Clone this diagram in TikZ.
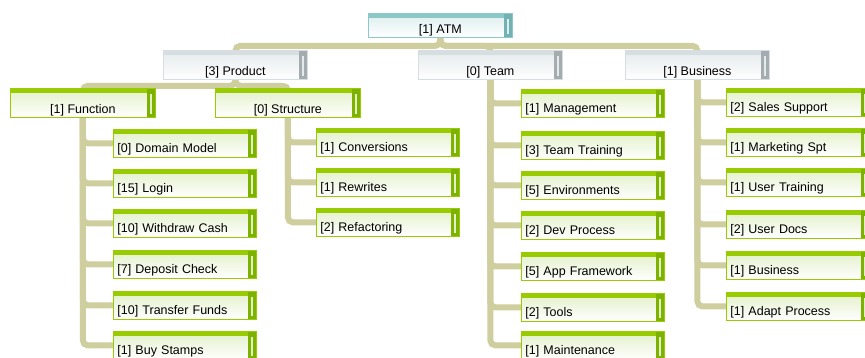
\documentclass[tikz,border=0pt]{standalone}
\usepackage{fontspec}
\setmainfont{Liberation Sans}
\usepackage{xcolor}
\usepackage{tikz}
\usetikzlibrary{backgrounds,calc}

\definecolor{tealbar}{RGB}{140,200,200}
\definecolor{tealside}{RGB}{115,178,178}
\definecolor{tealpale}{RGB}{220,238,238}
\definecolor{greybar}{RGB}{214,222,226}
\definecolor{greyside}{RGB}{165,172,176}
\definecolor{greypale}{RGB}{228,234,236}
\definecolor{limebar}{RGB}{153,204,0}
\definecolor{limeside}{RGB}{125,178,0}
\definecolor{limepale}{RGB}{226,240,200}
\definecolor{linkc}{RGB}{206,206,158}

\tikzset{
  box/.style={rectangle, anchor=north west, inner sep=0pt, text depth=3pt,
    font=\fontsize{12.5}{14}\selectfont, line width=0.8pt,
    draw=#1bar, top color=#1pale, bottom color=white,
    path picture={
      \fill[#1bar] (path picture bounding box.north west)
        rectangle ([yshift=-5pt]path picture bounding box.north east);
      \fill[#1side] ([xshift=-8pt]path picture bounding box.north east)
        rectangle (path picture bounding box.south east);
      \fill[#1pale] ([xshift=-5pt,yshift=-6pt]path picture bounding box.north east)
        rectangle ([xshift=-3pt,yshift=3pt]path picture bounding box.south east);
    }},
  root/.style={box=teal, minimum width=144pt, minimum height=24pt, text height=19pt},
  area/.style={box=grey, minimum width=144pt, minimum height=29pt, text height=24pt},
  group/.style={box=lime, minimum width=145pt, minimum height=29pt, text height=24pt},
  leaf/.style={box=lime, minimum height=28pt, text height=21pt,
    text width=135pt, align=left, inner xsep=4pt},
  link/.style={draw=linkc, line width=6pt, rounded corners=5pt}
}

\begin{document}
\begin{tikzpicture}[x=1pt, y=-1pt]
  \useasboundingbox (0,0) rectangle (865,358);
  % top of the tree
  \node[root] (atm) at (368,13) {[1] ATM};
  \node[area] (product) at (163,50) {[3] Product};
  \node[area] (team) at (418,50) {[0] Team};
  \node[area] (business) at (625,50) {[1] Business};
  \node[group] (function) at (10,88) {[1] Function};
  \node[group] (structure) at (215,88) {[0] Structure};
  % leaves
  \foreach \n/\y/\t in {f1/129/{[0] Domain Model}, f2/169/{[15] Login},
      f3/209/{[10] Withdraw Cash}, f4/250/{[7] Deposit Check},
      f5/291/{[10] Transfer Funds}, f6/331/{[1] Buy Stamps}}
    \node[leaf] (\n) at (113,\y) {\t};
  \foreach \n/\y/\t in {s1/128/{[1] Conversions}, s2/168/{[1] Rewrites},
      s3/208/{[2] Refactoring}}
    \node[leaf] (\n) at (316,\y) {\t};
  \foreach \n/\y/\t in {t1/89/{[1] Management}, t2/131/{[3] Team Training},
      t3/171/{[5] Environments}, t4/211/{[2] Dev Process},
      t5/252/{[5] App Framework}, t6/293/{[2] Tools}, t7/331/{[1] Maintenance}}
    \node[leaf] (\n) at (521,\y) {\t};
  \foreach \n/\y/\t in {b1/88/{[2] Sales Support}, b2/128/{[1] Marketing Spt},
      b3/168/{[1] User Training}, b4/210/{[2] User Docs},
      b5/251/{[1] Business}, b6/292/{[1] Adapt Process}}
    \node[leaf] (\n) at (726,\y) {\t};
  % connectors behind the boxes
  \begin{scope}[on background layer]
    \coordinate (hub) at ($(atm.south)+(0,8)$);
    \coordinate (phub) at ($(product.south)+(0,6)$);
    \foreach \m in {product,team,business}
      \draw[link] (atm.south) -- (hub) -| (\m.north);
    \foreach \m in {function,structure}
      \draw[link] (product.south) -- (phub) -| (\m.north);
    \foreach \n in {f1,f2,f3,f4,f5,f6}
      \draw[link] (function.south) |- (\n.west);
    \foreach \n in {s1,s2,s3}
      \draw[link] (structure.south) |- (\n.west);
    \foreach \n in {t1,t2,t3,t4,t5,t6,t7}
      \draw[link] (team.south) |- (\n.west);
    \foreach \n in {b1,b2,b3,b4,b5,b6}
      \draw[link] (business.south) |- (\n.west);
  \end{scope}
\end{tikzpicture}
\end{document}
